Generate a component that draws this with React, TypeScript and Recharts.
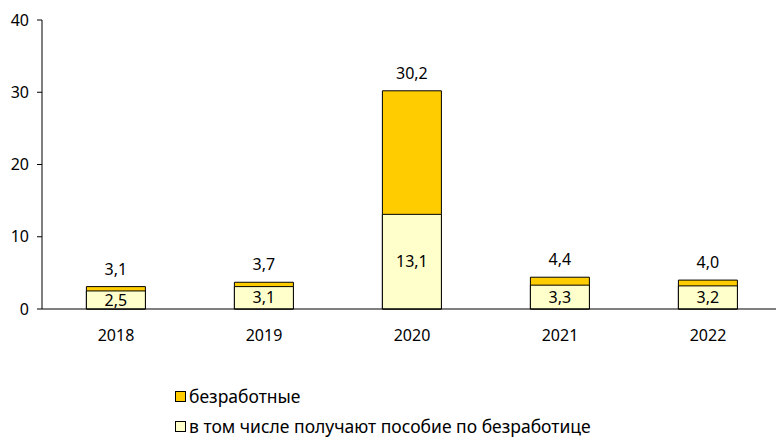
import React from 'react';
import { BarChart, Bar, XAxis, YAxis, LabelList } from 'recharts';

const years = ['2018', '2019', '2020', '2021', '2022'];
const unemployed = [3.1, 3.7, 30.2, 4.4, 4.0];
const receivingBenefit = [2.5, 3.1, 13.1, 3.3, 3.2];
const yTicks = [0, 10, 20, 30, 40];
const boundaryTicks = [0, 1, 2, 3, 4, 5];

const seriesNames = ['безработные', 'в том числе получают пособие по безработице'];
const GOLD = '#FFCC00';
const PALE = '#FFFFCC';

const FONT = '"Noto Sans", "Open Sans", sans-serif';

const data = years.map((y, i) => ({
  year: y,
  total: unemployed[i],
  benefit: receivingBenefit[i],
}));

const fmt = (v: any) => Number(v).toFixed(1).replace('.', ',');

const App: React.FC = () => {
  return (
    <div style={{ position: 'absolute', left: 0, top: 0, width: 776, height: 438, overflow: 'hidden', background: '#fff', fontFamily: FONT }}>
      <BarChart
        width={782}
        height={438}
        data={data}
        margin={{ top: 20, right: 0, left: 0, bottom: 99 }}
        barCategoryGap="30%"
      >
        <XAxis
          xAxisId="b"
          type="number"
          domain={[0, 5]}
          ticks={boundaryTicks}
          height={0}
          axisLine={false}
          tick={false}
          tickSize={5}
          tickLine={{ stroke: '#000' }}
          allowDataOverflow
        />
        <XAxis
          xAxisId="c"
          dataKey="year"
          height={30}
          axisLine={{ stroke: '#000' }}
          tickLine={false}
          tickSize={0}
          tickMargin={21}
          tick={{ fill: '#000', fontSize: 16, fontFamily: FONT }}
        />
        <XAxis xAxisId="h" dataKey="year" hide />
        <YAxis
          width={42}
          domain={[0, 40]}
          ticks={yTicks}
          axisLine={{ stroke: '#000' }}
          tickLine={{ stroke: '#000' }}
          tickSize={5}
          tickMargin={8}
          tick={{ fill: '#000', fontSize: 16, fontFamily: FONT }}
        />
        <Bar xAxisId="c" dataKey="total" name={seriesNames[0]} fill={GOLD} stroke="#000" strokeWidth={1} isAnimationActive={false}>
          <LabelList dataKey="total" position="top" offset={12} formatter={fmt} fill="#000" fontSize={16} fontFamily={FONT} />
        </Bar>
        <Bar xAxisId="h" dataKey="benefit" name={seriesNames[1]} fill={PALE} stroke="#000" strokeWidth={1} isAnimationActive={false}>
          <LabelList dataKey="benefit" position="center" formatter={fmt} fill="#000" fontSize={16} fontFamily={FONT} />
        </Bar>
      </BarChart>
      {seriesNames.map((name, i) => (
        <div
          key={name}
          style={{ position: 'absolute', left: 175, top: 386 + i * 30, fontSize: 17.5, lineHeight: '20px', height: 20, color: '#000', display: 'flex', alignItems: 'center', whiteSpace: 'nowrap' }}
        >
          <span style={{ display: 'inline-block', width: 9, height: 9, border: '1px solid #000', background: i === 0 ? GOLD : PALE, marginRight: 3 }} />
          <span>{name}</span>
        </div>
      ))}
    </div>
  );
};

export default App;
